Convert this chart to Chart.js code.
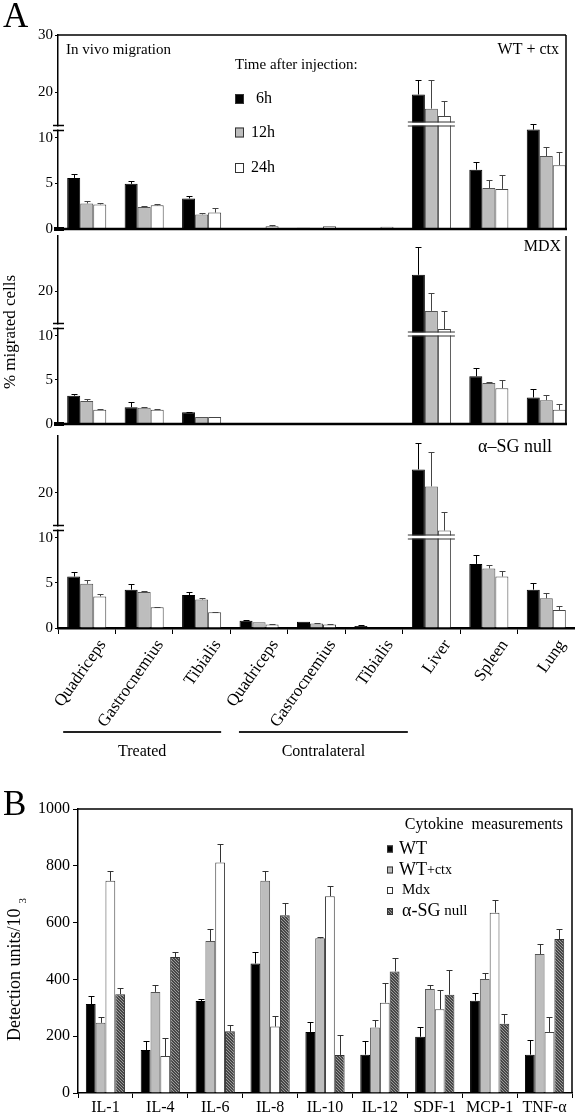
<!DOCTYPE html>
<html>
<head>
<meta charset="utf-8">
<title>In vivo migration / cytokine measurements</title>
<script src="https://cdn.jsdelivr.net/npm/chart.js@4.4.1/dist/chart.umd.min.js"></script>
<style>
  html, body { margin: 0; padding: 0; background: #fff; width: 575px; height: 1120px; overflow: hidden; }
  canvas { position: absolute; left: 0; }
</style>
</head>
<body>
<canvas id="a1" width="575" height="240" style="top:0px"></canvas>
<canvas id="a2" width="575" height="210" style="top:225px"></canvas>
<canvas id="a3" width="575" height="345" style="top:425px"></canvas>
<canvas id="b" width="575" height="340" style="top:780px"></canvas>
<script>
// ---- panel A: % migrated cells ----
const tissues = ['Quadriceps', 'Gastrocnemius', 'Tibialis', 'Quadriceps', 'Gastrocnemius', 'Tibialis', 'Liver', 'Spleen', 'Lung'];
const timeLabels = ['6h', '12h', '24h'];

const wtCtx6h  = [5.6, 4.95, 3.35, 0.1, 0.15, 0, 19.5, 6.5, 11.8];
const wtCtx12h = [2.8, 2.4, 1.6, 0.1, 0, 0, 16.4, 4.5, 8.0];
const wtCtx24h = [2.7, 2.6, 1.8, 0.3, 0.3, 0.25, 14.8, 4.4, 7.0];
const wtCtx6hErr  = [6.0, 5.25, 3.6, 0, 0, 0, 22.2, 7.4, 13.0];
const wtCtx12hErr = [3.05, 2.5, 1.7, 0, 0, 0, 22.2, 5.4, 9.0];
const wtCtx24hErr = [2.8, 2.7, 2.3, 0.4, 0, 0, 18.0, 5.9, 8.4];

const mdx6h  = [3.2, 1.9, 1.33, 0.1, 0.1, 0.1, 23.0, 5.4, 3.0];
const mdx12h = [2.6, 1.85, 0.8, 0.1, 0, 0, 15.6, 4.65, 2.7];
const mdx24h = [1.6, 1.6, 0.8, 0.05, 0, 0, 11.5, 4.05, 1.6];
const mdx6hErr  = [3.4, 2.5, 1.4, 0, 0, 0, 28.1, 6.35, 4.0];
const mdx12hErr = [2.8, 1.9, 0, 0, 0, 0, 19.6, 4.8, 3.3];
const mdx24hErr = [1.7, 1.75, 0, 0, 0, 0, 15.6, 4.95, 2.3];

const sg6h  = [5.7, 4.25, 3.65, 0.8, 0.7, 0.22, 24.1, 7.1, 4.25];
const sg12h = [4.9, 4.0, 3.15, 0.63, 0.5, 0, 21.1, 6.6, 3.3];
const sg24h = [3.5, 2.3, 1.75, 0.38, 0.4, 0, 11.6, 5.7, 2.0];
const sg6hErr  = [6.2, 4.9, 4.0, 0.85, 0, 0.35, 28.7, 8.1, 5.0];
const sg12hErr = [5.35, 4.1, 3.35, 0, 0.55, 0, 27.2, 7.0, 3.9];
const sg24hErr = [3.8, 2.35, 1.8, 0.45, 0.45, 0, 15.6, 6.3, 2.4];

const yTicksTop = [0, 5, 10, 20, 30];
const yTicksLower = [0, 5, 10, 20];

// ---- panel B: cytokines ----
const cytokines = ['IL-1', 'IL-4', 'IL-6', 'IL-8', 'IL-10', 'IL-12', 'SDF-1', 'MCP-1', 'TNF-α'];
const groupLabels = ['WT', 'WT+ctx', 'Mdx', 'α-SG null'];
const cytoWT  = [313, 151, 324, 456, 215, 135, 198, 325, 135];
const cytoCtx = [247, 356, 535, 747, 545, 231, 366, 401, 489];
const cytoMdx = [747, 130, 812, 234, 693, 318, 295, 635, 215];
const cytoSG  = [348, 479, 217, 626, 134, 428, 346, 244, 542];
const cytoWTErr  = [340, 184, 332, 496, 249, 184, 232, 353, 188];
const cytoCtxErr = [267, 382, 578, 783, 550, 257, 382, 422, 523];
const cytoMdxErr = [780, 195, 877, 272, 730, 387, 363, 680, 268];
const cytoSGErr  = [369, 495, 238, 668, 203, 474, 434, 279, 576];

const SERIF = '"Liberation Serif", "Times New Roman", serif';
Chart.defaults.font.family = SERIF;
Chart.defaults.color = '#000';

// broken y axis: 0-10 stretched, 10-20 squeezed, 20-30 upper part
const brkVals = [0, 10, 20, 30];
const brkFrac = [0, 0.47, 0.705, 1];
class BrokenScale extends Chart.LinearScale {
  getPixelForValue(v) {
    if (v === null || v === undefined || isNaN(v)) return NaN;
    let f = v <= 0 ? 0 : 1;
    for (let i = 1; i < brkVals.length; i++) {
      if (v > brkVals[i - 1] && v <= brkVals[i]) {
        f = brkFrac[i - 1] + (v - brkVals[i - 1]) / (brkVals[i] - brkVals[i - 1]) * (brkFrac[i] - brkFrac[i - 1]);
        break;
      }
    }
    return this.getPixelForDecimal(f);
  }
}
BrokenScale.id = 'broken';
BrokenScale.defaults = Chart.LinearScale.defaults;
Chart.register(BrokenScale);

// one-sided error bars
const errorBars = {
  id: 'errorBars',
  afterDatasetsDraw(chart) {
    const ctx = chart.ctx, ys = chart.scales.y;
    chart.data.datasets.forEach((ds, i) => {
      if (!ds.errHigh) return;
      const meta = chart.getDatasetMeta(i);
      ctx.save();
      ctx.strokeStyle = ds.errColor || '#000';
      ctx.lineWidth = 1;
      meta.data.forEach((bar, j) => {
        const e = ds.errHigh[j];
        if (!e || e <= ds.data[j]) return;
        const yt = Math.round(ys.getPixelForValue(e)) + 0.5;
        const x = Math.round(bar.x) + 0.5;
        ctx.beginPath();
        ctx.moveTo(x, bar.y);
        ctx.lineTo(x, yt);
        ctx.moveTo(x - 3, yt);
        ctx.lineTo(x + 3, yt);
        ctx.stroke();
      });
      ctx.restore();
    });
  }
};

function txt(ctx, s, x, y, size, align) {
  ctx.font = size + 'px ' + SERIF;
  ctx.textAlign = align || 'left';
  ctx.textBaseline = 'middle';
  ctx.fillStyle = '#000';
  ctx.fillText(s, x, y);
}

function migrationDeco(cfg) {
  return {
    id: 'migrationDeco',
    afterDatasetsDraw(chart) {
      const ctx = chart.ctx, a = chart.chartArea, ys = chart.scales.y;
      ctx.save();
      // break across the liver bars
      const m0 = chart.getDatasetMeta(0).data[6], m2 = chart.getDatasetMeta(2).data[6];
      const bx0 = m0.x - m0.width / 2 - 4, bx1 = m2.x + m2.width / 2 + 4;
      const by = Math.round(ys.getPixelForValue(cfg.liverBreak));
      ctx.fillStyle = '#fff';
      ctx.fillRect(bx0, by - 1.5, bx1 - bx0, 3);
      ctx.strokeStyle = '#333';
      ctx.lineWidth = 1;
      ctx.beginPath();
      ctx.moveTo(bx0, by - 2); ctx.lineTo(bx1, by - 2);
      ctx.moveTo(bx0, by + 2); ctx.lineTo(bx1, by + 2);
      ctx.stroke();
      // break on the y axis
      const ay = Math.round(ys.getPixelForValue(12.2));
      ctx.fillStyle = '#fff';
      ctx.fillRect(a.left - 3, ay - 1.5, 9, 3);
      ctx.strokeStyle = '#000';
      ctx.lineWidth = 1.5;
      ctx.beginPath();
      ctx.moveTo(a.left - 5, ay - 2.5); ctx.lineTo(a.left + 6, ay - 2.5);
      ctx.moveTo(a.left - 5, ay + 2.5); ctx.lineTo(a.left + 6, ay + 2.5);
      ctx.stroke();
      // frame
      ctx.strokeStyle = '#000';
      ctx.lineWidth = 1.5;
      ctx.beginPath();
      if (cfg.top) { ctx.moveTo(a.left, a.top); ctx.lineTo(566, a.top); }
      if (cfg.right) { ctx.moveTo(566, a.top); ctx.lineTo(566, a.bottom); }
      ctx.stroke();
      if (cfg.bottom) {
        ctx.lineWidth = 2.5;
        ctx.beginPath();
        ctx.moveTo(a.left - 4, a.bottom); ctx.lineTo(567, a.bottom);
        ctx.stroke();
        ctx.fillStyle = '#000';
        ctx.fillRect(a.left - 4, a.bottom - 2, 10, 4);
      }
      if (cfg.draw) cfg.draw(ctx, chart);
      ctx.restore();
    }
  };
}

function migrationChart(id, d6, d12, d24, e6, e12, e24, yTicks, pad, showX, deco) {
  return new Chart(document.getElementById(id), {
    type: 'bar',
    data: {
      labels: tissues,
      datasets: [
        { label: timeLabels[0], data: d6, errHigh: e6, errColor: '#000', backgroundColor: '#000', borderColor: '#000', borderWidth: 1 },
        { label: timeLabels[1], data: d12, errHigh: e12, errColor: '#444', backgroundColor: '#bdbdbd', borderColor: '#555', borderWidth: 1 },
        { label: timeLabels[2], data: d24, errHigh: e24, errColor: '#444', backgroundColor: '#fff', borderColor: '#444', borderWidth: 1 }
      ]
    },
    options: {
      responsive: false,
      animation: false,
      datasets: { bar: { categoryPercentage: 0.68, barPercentage: 1 } },
      layout: { padding: pad },
      plugins: { legend: { display: false }, tooltip: { enabled: false } },
      scales: {
        x: {
          display: showX,
          grid: { offset: true, drawOnChartArea: false, tickLength: 6, color: '#000' },
          border: { color: '#000', width: 2.5 },
          ticks: { font: { size: 17 }, color: '#000', minRotation: 55, maxRotation: 55, autoSkip: false, labelOffset: 16, padding: 2 },
          afterFit: s => { s.height = showX ? 142 : 0; }
        },
        y: {
          type: 'broken',
          min: 0,
          max: 30,
          afterBuildTicks: s => { s.ticks = yTicks.map(v => ({ value: v })); },
          afterFit: s => { s.width = 58; },
          grid: { drawOnChartArea: false, tickLength: 3, color: '#000' },
          border: { color: '#000', width: 1.5 },
          ticks: { font: { size: 15 }, color: '#000', padding: 2, callback: v => String(v) }
        }
      }
    },
    plugins: [errorBars, migrationDeco(deco)]
  });
}

// top: WT + ctx
migrationChart('a1', wtCtx6h, wtCtx12h, wtCtx24h, wtCtx6hErr, wtCtx12hErr, wtCtx24hErr, yTicksTop,
  { top: 35, bottom: 8, left: 0, right: 0 }, false,
  { liverBreak: 13, top: true, right: true, bottom: true,
    draw(ctx) {
      ctx.font = '35px ' + SERIF; ctx.textAlign = 'left'; ctx.textBaseline = 'alphabetic'; ctx.fillStyle = '#000';
      ctx.fillText('A', 3, 27);
      txt(ctx, 'In vivo migration', 66, 50, 15);
      txt(ctx, 'WT + ctx', 559, 50, 16, 'right');
      txt(ctx, 'Time after injection:', 235, 65, 15);
      const fills = ['#000', '#bdbdbd', '#fff'], ys = [94, 127.5, 163], xs = [256, 251, 251];
      for (let i = 0; i < 3; i++) {
        ctx.fillStyle = fills[i];
        ctx.fillRect(235, ys[i], 9, 10);
        ctx.strokeStyle = '#333'; ctx.lineWidth = 1;
        ctx.strokeRect(235.5, ys[i] + 0.5, 8, 9);
        txt(ctx, timeLabels[i], xs[i], ys[i] + 5, 16);
      }
    } });

// middle: MDX
migrationChart('a2', mdx6h, mdx12h, mdx24h, mdx6hErr, mdx12hErr, mdx24hErr, yTicksLower,
  { top: 7, bottom: 4, left: 0, right: 0 }, false,
  { liverBreak: 10.3, top: false, right: true, bottom: true,
    draw(ctx) {
      txt(ctx, 'MDX', 561, 22, 16, 'right');
      ctx.save();
      ctx.translate(11, 107);
      ctx.rotate(-Math.PI / 2);
      txt(ctx, '% migrated cells', 0, 0, 17, 'center');
      ctx.restore();
    } });

// bottom: alpha-SG null
migrationChart('a3', sg6h, sg12h, sg24h, sg6hErr, sg12hErr, sg24hErr, yTicksLower,
  { top: 6, bottom: 0, left: 0, right: 0 }, true,
  { liverBreak: 10.1, top: false, right: false, bottom: false,
    draw(ctx, chart) {
      txt(ctx, 'α–SG null', 552, 22, 18, 'right');
      const xs = chart.scales.x;
      const x0 = xs.getPixelForValue(0), cw = xs.getPixelForValue(1) - x0;
      const groups = [['Treated', -0.41, 2.34], ['Contralateral', 2.65, 5.59]];
      ctx.strokeStyle = '#222'; ctx.lineWidth = 2;
      groups.forEach(g => {
        const gx0 = x0 + g[1] * cw, gx1 = x0 + g[2] * cw;
        ctx.beginPath(); ctx.moveTo(gx0, 307); ctx.lineTo(gx1, 307); ctx.stroke();
        txt(ctx, g[0], (gx0 + gx1) / 2, 327, 16, 'center');
      });
    } });

// ---- panel B ----
function hatch() {
  const c = document.createElement('canvas');
  c.width = 3; c.height = 3;
  const g = c.getContext('2d');
  g.fillStyle = '#474747'; g.fillRect(0, 0, 3, 3);
  g.fillStyle = '#9a9a9a';
  g.fillRect(0, 0, 1, 1); g.fillRect(1, 1, 1, 1); g.fillRect(2, 2, 1, 1);
  return g.createPattern(c, 'repeat');
}
const sgFill = hatch();

const cytoDeco = {
  id: 'cytoDeco',
  afterDatasetsDraw(chart) {
    const ctx = chart.ctx, a = chart.chartArea;
    ctx.save();
    ctx.strokeStyle = '#000'; ctx.lineWidth = 1.5;
    ctx.beginPath();
    ctx.moveTo(a.left, a.top); ctx.lineTo(a.right, a.top); ctx.lineTo(a.right, a.bottom);
    ctx.stroke();
    ctx.font = '35px ' + SERIF; ctx.textAlign = 'left'; ctx.textBaseline = 'alphabetic'; ctx.fillStyle = '#000';
    ctx.fillText('B', 3, 35);
    // y title
    ctx.save();
    ctx.translate(15, 261);
    ctx.rotate(-Math.PI / 2);
    txt(ctx, 'Detection units/10', 0, 0, 18, 'left');
    ctx.font = '18px ' + SERIF;
    const w = ctx.measureText('Detection units/10').width;
    txt(ctx, '3', w + 5, 8, 11, 'left');
    ctx.restore();
    // legend
    txt(ctx, 'Cytokine  measurements', 563, 45, 16, 'right');
    const rows = [69, 90, 110.5, 131.5];
    const parts = [[['WT', 18]], [['WT', 18], ['+ctx', 14]], [['Mdx', 15]], [['α-SG', 18], [' null', 15]]];
    chart.data.datasets.forEach((ds, i) => {
      ctx.fillStyle = ds.backgroundColor;
      ctx.fillRect(387, rows[i] - 3.5, 6, 7);
      ctx.strokeStyle = '#333'; ctx.lineWidth = 1;
      ctx.strokeRect(387.5, rows[i] - 3, 5, 6);
      let x = i === 0 || i === 1 ? 399 : 402;
      parts[i].forEach(p => {
        txt(ctx, p[0], x, rows[i], p[1]);
        x += ctx.measureText(p[0]).width;
      });
    });
    ctx.restore();
  }
};

new Chart(document.getElementById('b'), {
  type: 'bar',
  data: {
    labels: cytokines,
    datasets: [
      { label: groupLabels[0], data: cytoWT, errHigh: cytoWTErr, errColor: '#000', backgroundColor: '#000', borderColor: '#000', borderWidth: 1 },
      { label: groupLabels[1], data: cytoCtx, errHigh: cytoCtxErr, errColor: '#333', backgroundColor: '#bdbdbd', borderColor: '#555', borderWidth: 1 },
      { label: groupLabels[2], data: cytoMdx, errHigh: cytoMdxErr, errColor: '#333', backgroundColor: '#fff', borderColor: '#444', borderWidth: 1 },
      { label: groupLabels[3], data: cytoSG, errHigh: cytoSGErr, errColor: '#333', backgroundColor: sgFill, borderColor: '#333', borderWidth: 1 }
    ]
  },
  options: {
    responsive: false,
    animation: false,
    datasets: { bar: { categoryPercentage: 0.715, barPercentage: 1 } },
    layout: { padding: { top: 29, right: 3, left: 0, bottom: 0 } },
    plugins: { legend: { display: false }, tooltip: { enabled: false } },
    scales: {
      x: {
        grid: { offset: true, drawOnChartArea: false, tickLength: 5, color: '#000' },
        border: { color: '#000', width: 1.5 },
        ticks: { font: { size: 16 }, color: '#000', maxRotation: 0, autoSkip: false, padding: 0 },
        afterFit: s => { s.height = 27; }
      },
      y: {
        min: 0,
        max: 1000,
        ticks: { stepSize: 200, font: { size: 16 }, color: '#000', padding: 3, callback: v => String(v) },
        grid: { drawOnChartArea: false, tickLength: 5, color: '#000' },
        border: { color: '#000', width: 1.5 },
        afterFit: s => { s.width = 78; }
      }
    }
  },
  plugins: [errorBars, cytoDeco]
});
</script>
</body>
</html>
